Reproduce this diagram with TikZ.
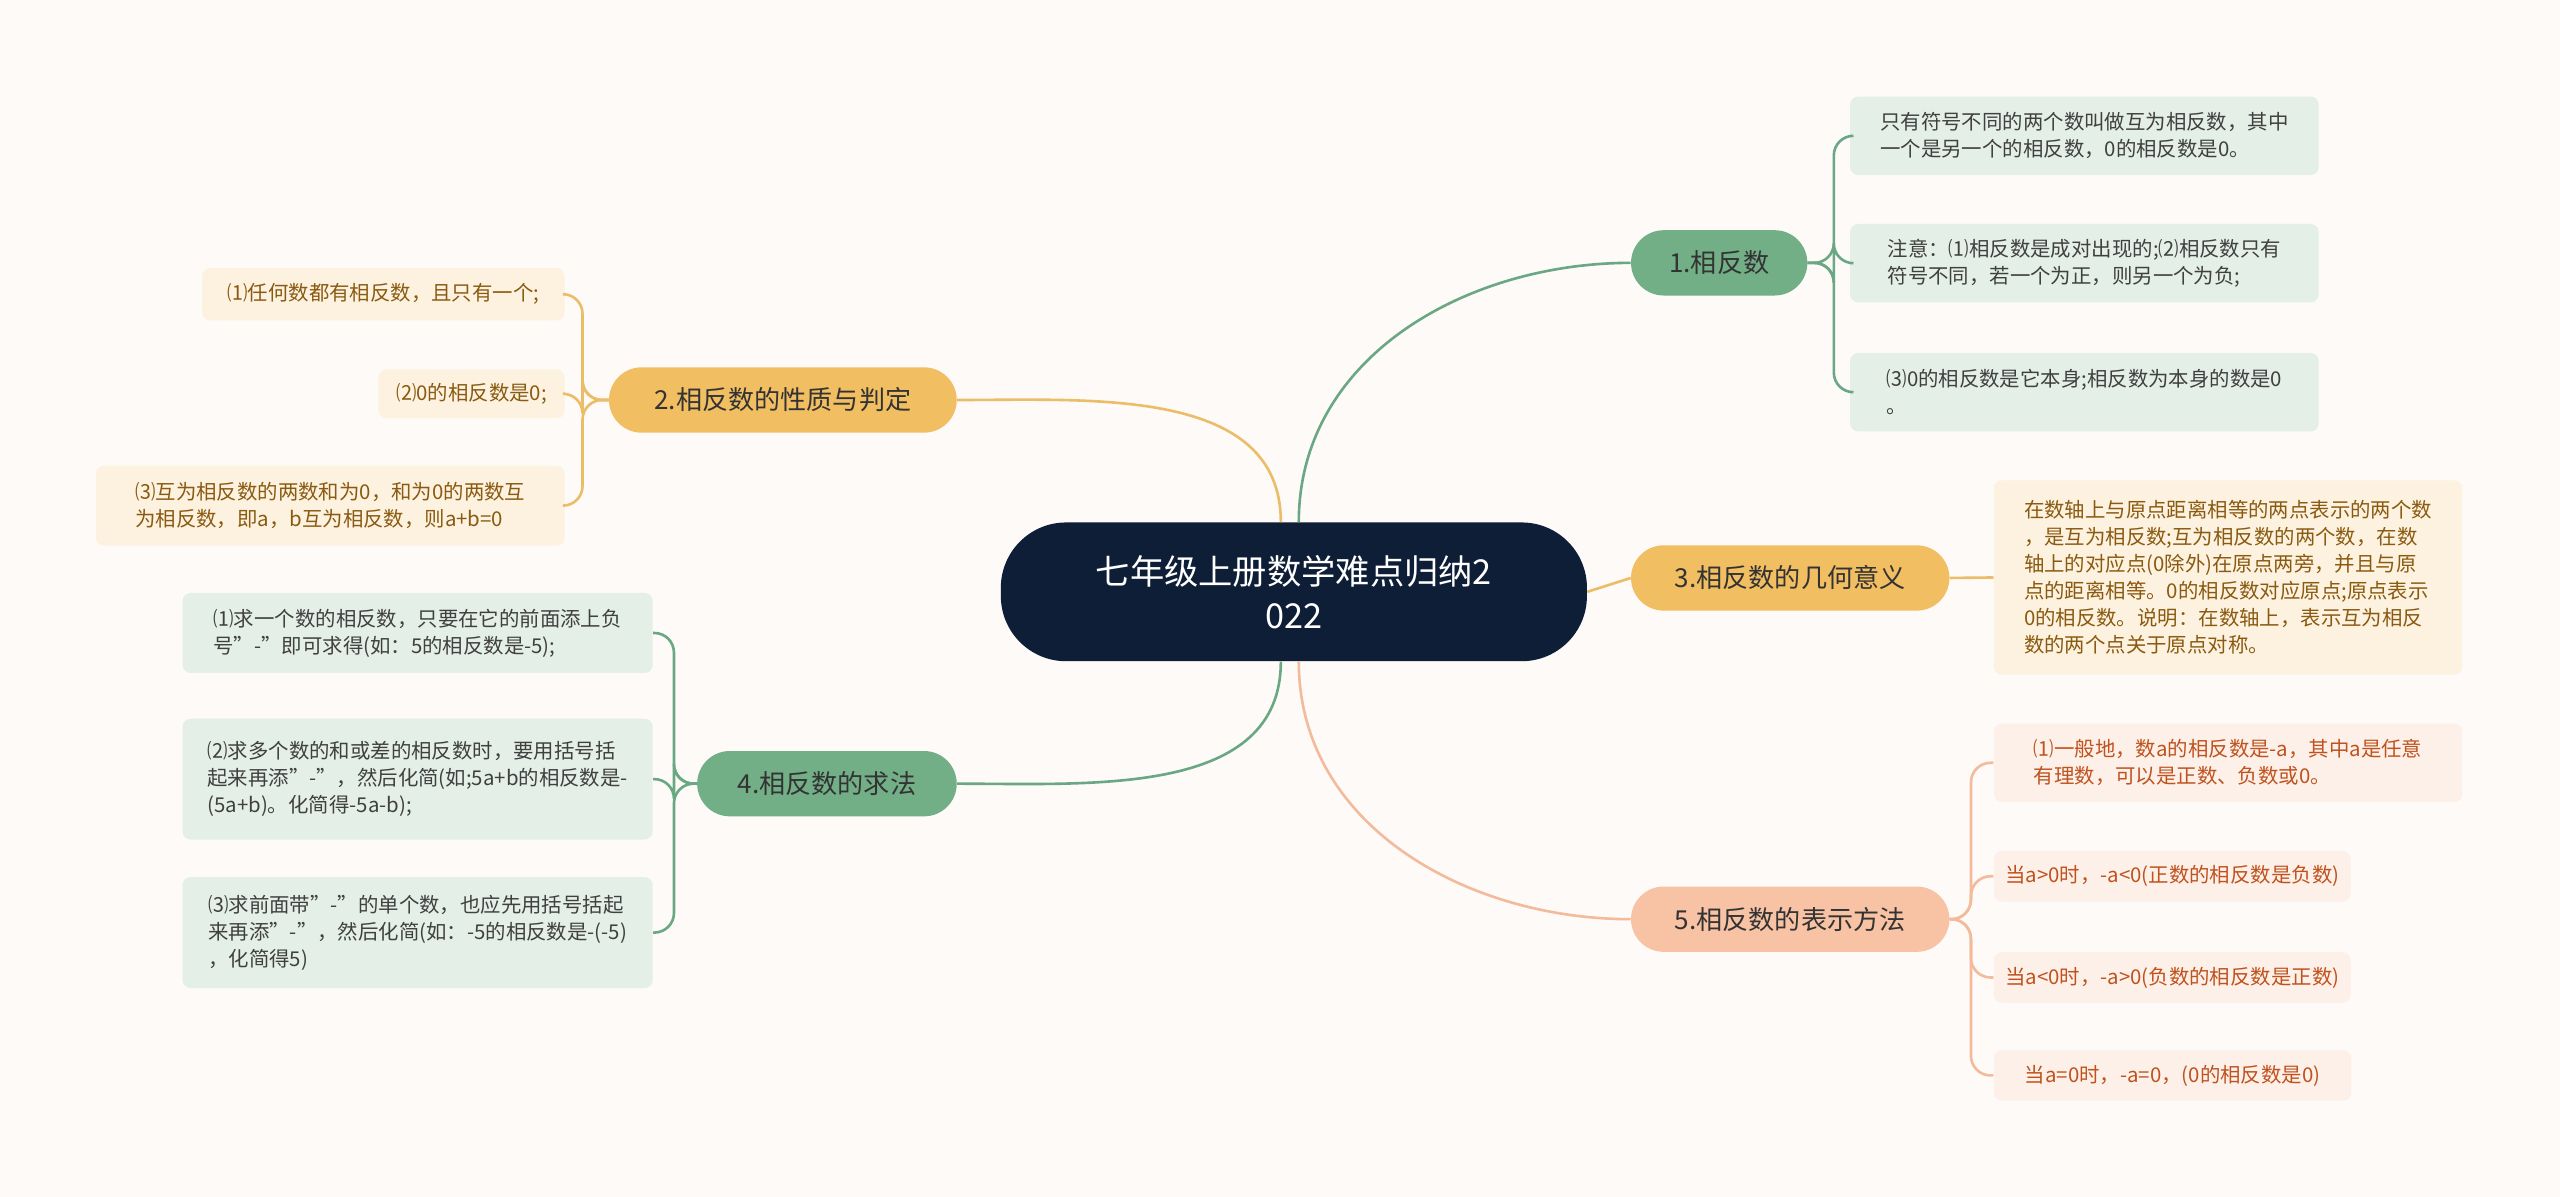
\documentclass[tikz,border=0pt]{standalone}
\usepackage{fontspec}
\setmainfont{Noto Sans CJK SC}
\usetikzlibrary{positioning, calc}

\definecolor{bgpaper}{HTML}{FDFAF8}
\definecolor{navy}{HTML}{0D1E36}
\definecolor{grnmid}{HTML}{72AE86}
\definecolor{grnline}{HTML}{6AA783}
\definecolor{grnleaf}{HTML}{E3EFE7}
\definecolor{yelmid}{HTML}{F1BE62}
\definecolor{yelline}{HTML}{EBBD68}
\definecolor{yelleaf}{HTML}{FDF2E0}
\definecolor{yeltext}{HTML}{8A5A10}
\definecolor{pchmid}{HTML}{F8C2A4}
\definecolor{pchline}{HTML}{F3BB9C}
\definecolor{pchleaf}{HTML}{FDF0E8}
\definecolor{pchtext}{HTML}{C0521E}

\begin{document}
\begin{tikzpicture}[
		x=1pt, y=-1pt,
		% Node Styles
		root_node/.style={rounded corners=40pt, fill=navy, text=white, font=\fontsize{21}{27}\selectfont, minimum width=359pt, minimum height=85pt, align=center},
		branch_node/.style={rounded corners=20pt, minimum height=40pt, font=\fontsize{16}{20}\selectfont, text=black!80, align=center},
		leaf_node/.style={rounded corners=5pt, font=\fontsize{12.5}{16.5}\selectfont, align=left, inner sep=7pt},
		leaf_green/.style={leaf_node, fill=grnleaf, text=black!75},
		leaf_yel/.style={leaf_node, fill=yelleaf, text=yeltext},
		leaf_pch/.style={leaf_node, fill=pchleaf, text=pchtext},
		% Edge Styles
		link/.style={line width=1.6pt},
		bracket/.style={line width=1.6pt, rounded corners=12pt}
		]
		\fill[bgpaper] (0,0) rectangle (1568,733);
		\useasboundingbox (0,0) rectangle (1568,733);
		
		% --- ROOT ---
		\node[root_node] (root) at (792.5,362.5) {七年级上册数学难点归纳2\\022};
		
		% --- BRANCHES ---
		\node[branch_node, fill=grnmid, minimum width=108pt] (b1) at (1053,161) {1.相反数};
		\node[branch_node, fill=yelmid, minimum width=213pt] (b2) at (479.5,245) {2.相反数的性质与判定};
		\node[branch_node, fill=yelmid, minimum width=195pt] (b3) at (1096.5,354) {3.相反数的几何意义};
		\node[branch_node, fill=grnmid, minimum width=159pt] (b4) at (506.5,480) {4.相反数的求法};
		\node[branch_node, fill=pchmid, minimum width=195pt] (b5) at (1096.5,563) {5.相反数的表示方法};
		
		% --- LEAVES 1 ---
		\node[leaf_green, anchor=north west, minimum width=287pt, minimum height=48pt] (l11) at (1133,59) {只有符号不同的两个数叫做互为相反数，其中\\一个是另一个的相反数，0的相反数是0。};
		\node[leaf_green, anchor=north west, minimum width=287pt, minimum height=48pt] (l12) at (1133,137) {注意：⑴相反数是成对出现的;⑵相反数只有\\符号不同，若一个为正，则另一个为负;};
		\node[leaf_green, anchor=north west, minimum width=287pt, minimum height=48pt] (l13) at (1133,216) {⑶0的相反数是它本身;相反数为本身的数是0\\。};
		
		% --- LEAVES 2 ---
		\node[leaf_yel, anchor=north east, minimum width=222pt, minimum height=32pt] (l21) at (346,164) {⑴任何数都有相反数，且只有一个;};
		\node[leaf_yel, anchor=north east, minimum width=114pt, minimum height=30pt] (l22) at (346,226) {⑵0的相反数是0;};
		\node[leaf_yel, anchor=north east, minimum width=287pt, minimum height=49pt] (l23) at (346,285) {⑶互为相反数的两数和为0，和为0的两数互\\为相反数，即a，b互为相反数，则a+b=0};
		
		% --- LEAF 3 ---
		\node[leaf_yel, anchor=north west, minimum width=287pt, minimum height=119pt] (l31) at (1221,294) {在数轴上与原点距离相等的两点表示的两个数\\，是互为相反数;互为相反数的两个数，在数\\轴上的对应点(0除外)在原点两旁，并且与原\\点的距离相等。0的相反数对应原点;原点表示\\0的相反数。说明：在数轴上，表示互为相反\\数的两个点关于原点对称。};
		
		% --- LEAVES 4 ---
		\node[leaf_green, anchor=north east, minimum width=288pt, minimum height=49pt] (l41) at (400,363) {⑴求一个数的相反数，只要在它的前面添上负\\号"-"即可求得(如：5的相反数是-5);};
		\node[leaf_green, anchor=north east, minimum width=288pt, minimum height=74pt] (l42) at (400,440) {⑵求多个数的和或差的相反数时，要用括号括\\起来再添"-"，然后化简(如;5a+b的相反数是-\\(5a+b)。化简得-5a-b);};
		\node[leaf_green, anchor=north east, minimum width=288pt, minimum height=68pt] (l43) at (400,537) {⑶求前面带"-"的单个数，也应先用括号括起\\来再添"-"，然后化简(如：-5的相反数是-(-5)\\，化简得5)};
		
		% --- LEAVES 5 ---
		\node[leaf_pch, anchor=north west, minimum width=287pt, minimum height=48pt] (l51) at (1221,443) {⑴一般地，数a的相反数是-a，其中a是任意\\有理数，可以是正数、负数或0。};
		\node[leaf_pch, anchor=north west, minimum width=218pt, minimum height=31pt] (l52) at (1221,521) {当a>0时，-a<0(正数的相反数是负数)};
		\node[leaf_pch, anchor=north west, minimum width=218pt, minimum height=31pt] (l53) at (1221,583) {当a<0时，-a>0(负数的相反数是正数)};
		\node[leaf_pch, anchor=north west, minimum width=219pt, minimum height=31pt] (l54) at (1221,643) {当a=0时，-a=0，(0的相反数是0)};
		
		% ================= CONNECTORS =================
		% Root to branches
		\draw[link, grnline] ($(root.north)+(3,0)$) to[out=90,in=180] (b1.west);
		\draw[link, yelline] ($(root.north)+(-8,0)$) to[out=90,in=0] (b2.east);
		\draw[link, yelline] (root.east) -- (b3.west);
		\draw[link, grnline] ($(root.south)+(-8,0)$) to[out=-90,in=0] (b4.east);
		\draw[link, pchline] ($(root.south)+(3,0)$) to[out=-90,in=180] (b5.west);
		
		% Branches to leaves
		\foreach \leaf in {l11,l12,l13}
			\draw[bracket, grnline] (b1.east) -- ++(16,0) |- (\leaf.west);
		\foreach \leaf in {l21,l22,l23}
			\draw[bracket, yelline] (b2.west) -- ++(-16,0) |- (\leaf.east);
		\draw[link, yelline] (b3.east) -- (l31.west);
		\foreach \leaf in {l41,l42,l43}
			\draw[bracket, grnline] (b4.west) -- ++(-14,0) |- (\leaf.east);
		\foreach \leaf in {l51,l52,l53,l54}
			\draw[bracket, pchline] (b5.east) -- ++(13,0) |- (\leaf.west);
		
	\end{tikzpicture}
\end{document}
